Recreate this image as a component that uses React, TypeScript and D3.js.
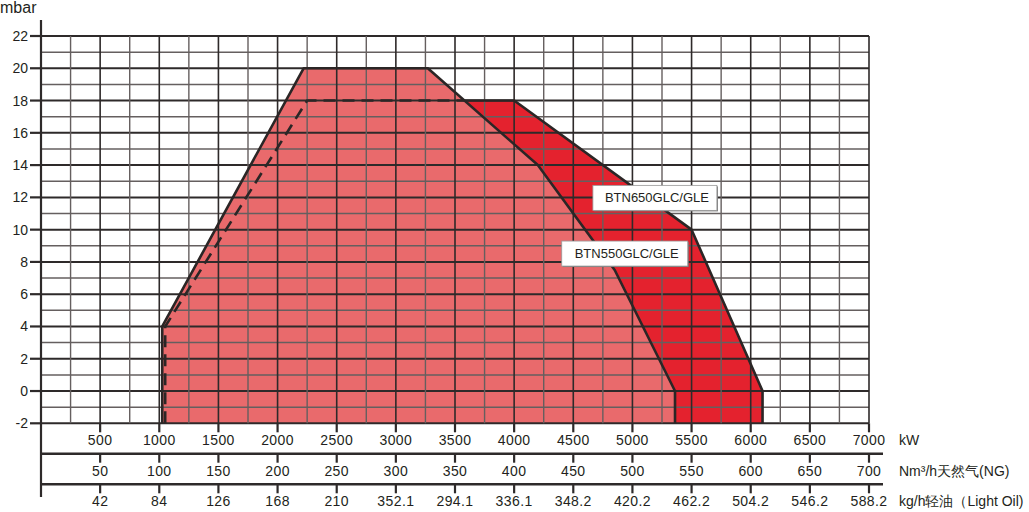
import React, { useEffect, useRef } from 'react';
import * as d3 from 'd3';

// kW 主轴刻度
const kwTicks = [500, 1000, 1500, 2000, 2500, 3000, 3500, 4000, 4500, 5000, 5500, 6000, 6500, 7000];
// 天然气 Nm3/h
const ngTicks = [50, 100, 150, 200, 250, 300, 350, 400, 450, 500, 550, 600, 650, 700];
// 轻油 kg/h (图上原样)
const oilLabels = ['42', '84', '126', '168', '210', '352.1', '294.1', '336.1', '348.2', '420.2', '462.2', '504.2', '546.2', '588.2'];
const mbarTicks = [-2, 0, 2, 4, 6, 8, 10, 12, 14, 16, 18, 20, 22];

// 工作曲线 [kW, mbar]
const curve550: [number, number][] = [
  [1025, -2], [1025, 4], [2220, 20], [3270, 20], [4200, 14], [4850, 7.5], [5360, 0], [5360, -2],
];
const curve650Inner: [number, number][] = [
  [1050, -2], [1050, 4], [2250, 18], [3580, 18],
];
const curve650Outer: [number, number][] = [
  [3580, 18], [4000, 18], [5500, 10], [6100, 0], [6100, -2],
];

const labels = [
  { name: 'BTN650GLC/GLE', kw: 5190, mbar: 12.0, w: 124 },
  { name: 'BTN550GLC/GLE', kw: 4935, mbar: 8.55, w: 126 },
];

const FONT = '"Liberation Sans", Arial, sans-serif';

const App = () => {
  const svgRef = useRef<SVGSVGElement>(null);

  useEffect(() => {
    const svg = d3.select(svgRef.current);
    svg.selectAll('*').remove();

    const x = d3.scaleLinear().domain([0, 7000]).range([41, 869]);
    const y = d3.scaleLinear().domain([-2, 22]).range([423.3, 36]);
    const xNg = d3.scaleLinear().domain([0, 700]).range([41, 869]);

    const line = d3.line<[number, number]>().x(d => x(d[0])).y(d => y(d[1]));
    const area = d3.line<[number, number]>().x(d => x(d[0])).y(d => y(d[1])).curve(d3.curveLinearClosed);

    // 填充
    svg.append('path').attr('d', area([...curve650Inner, ...curve650Outer.slice(1)]))
      .attr('fill', '#e4222e');
    svg.append('path').attr('d', area(curve550)).attr('fill', '#e96a6c');

    // 网格
    const grid = svg.append('g');
    d3.range(-2, 23, 1).forEach(v => {
      const major = v % 2 === 0;
      grid.append('line')
        .attr('x1', x(0)).attr('x2', x(7000))
        .attr('y1', y(v)).attr('y2', y(v))
        .attr('stroke', major ? '#2e2a2a' : '#655f5f')
        .attr('stroke-width', major ? 2 : 1.5);
    });
    d3.range(250, 7001, 250).forEach(v => {
      const major = v % 500 === 0;
      grid.append('line')
        .attr('x1', x(v)).attr('x2', x(v))
        .attr('y1', y(22)).attr('y2', y(-2))
        .attr('stroke', major ? '#2e2a2a' : '#655f5f')
        .attr('stroke-width', major ? 1.6 : 1.4);
    });

    // 曲线
    svg.append('path').attr('d', line(curve550))
      .attr('fill', 'none').attr('stroke', '#2b2626').attr('stroke-width', 2.6).attr('stroke-linejoin', 'round');
    svg.append('path').attr('d', line(curve650Inner))
      .attr('fill', 'none').attr('stroke', '#2b2626').attr('stroke-width', 2.6).attr('stroke-dasharray', '12,7');
    svg.append('path').attr('d', line(curve650Outer))
      .attr('fill', 'none').attr('stroke', '#2b2626').attr('stroke-width', 2.6).attr('stroke-linejoin', 'round');

    // 标签
    labels.forEach(l => {
      const cx = x(l.kw), cy = y(l.mbar);
      svg.append('rect')
        .attr('x', cx - l.w / 2 + 1).attr('y', cy - 12 + 1)
        .attr('width', l.w).attr('height', 25).attr('fill', '#777');
      svg.append('rect')
        .attr('x', cx - l.w / 2).attr('y', cy - 12)
        .attr('width', l.w).attr('height', 25)
        .attr('fill', '#fff').attr('stroke', '#999').attr('stroke-width', 0.8);
      svg.append('text')
        .attr('x', cx + 2).attr('y', cy + 5)
        .attr('text-anchor', 'middle')
        .attr('font-family', FONT).attr('font-size', 13).attr('fill', '#231f20')
        .text(l.name);
    });

    // Y 轴
    svg.append('line').attr('x1', 41).attr('x2', 41).attr('y1', 20).attr('y2', 497)
      .attr('stroke', '#2e2a2a').attr('stroke-width', 2.2);
    mbarTicks.forEach(v => {
      svg.append('line').attr('x1', 30).attr('x2', 41).attr('y1', y(v)).attr('y2', y(v))
        .attr('stroke', '#2e2a2a').attr('stroke-width', 2.2);
      svg.append('text')
        .attr('x', 28).attr('y', y(v) + 5)
        .attr('text-anchor', 'end')
        .attr('font-family', FONT).attr('font-size', 14).attr('fill', '#231f20')
        .text(v);
    });
    svg.append('text').attr('x', 0).attr('y', 13)
      .attr('font-family', FONT).attr('font-size', 16).attr('fill', '#231f20').text('mbar');

    // 底部三条刻度轴
    const rows = [
      { top: 423.3, labels: kwTicks.map(String), unit: 'kW' },
      { top: 453.7, labels: ngTicks.map(String), unit: 'Nm³/h天然气(NG)' },
      { top: 484.3, labels: oilLabels, unit: 'kg/h轻油（Light Oil)' },
    ];
    rows.forEach((r, i) => {
      if (i > 0) {
        svg.append('line').attr('x1', 41).attr('x2', 883).attr('y1', r.top).attr('y2', r.top)
          .attr('stroke', '#2e2a2a').attr('stroke-width', 2.4);
      }
      kwTicks.forEach((t, j) => {
        const px = i === 1 ? xNg(ngTicks[j]) : x(t);
        svg.append('line').attr('x1', px).attr('x2', px).attr('y1', r.top).attr('y2', r.top + 9)
          .attr('stroke', '#2e2a2a').attr('stroke-width', 2.2);
        svg.append('text')
          .attr('x', px).attr('y', r.top + 22)
          .attr('text-anchor', 'middle')
          .attr('font-family', FONT).attr('font-size', 14).attr('letter-spacing', 0.4).attr('fill', '#231f20')
          .text(r.labels[j]);
      });
      svg.append('text')
        .attr('x', 899).attr('y', r.top + 22)
        .attr('font-family', FONT).attr('font-size', 14).attr('fill', '#231f20')
        .text(r.unit);
    });
  }, []);

  return (
    <svg ref={svgRef} width={1029} height={512}
      style={{ position: 'absolute', left: 0, top: 0, background: '#fff' }} />
  );
};

export default App;
